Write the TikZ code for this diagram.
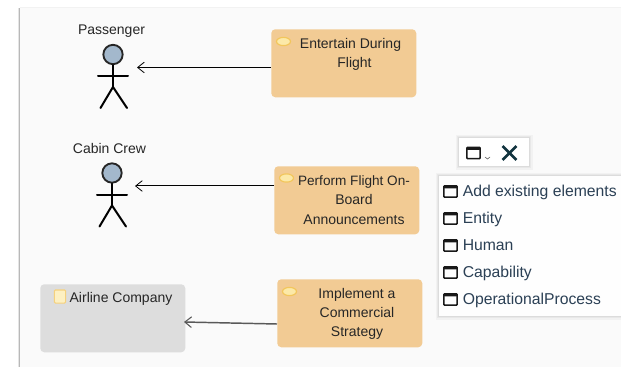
\documentclass[tikz,border=0pt]{standalone}
\usepackage{fontspec}
\setmainfont{Liberation Sans}
\usetikzlibrary{arrows.meta,shapes.geometric}
\definecolor{panelbg}{HTML}{FAFAFA}
\definecolor{procfill}{HTML}{F2CB94}
\definecolor{greyfill}{HTML}{DDDDDD}
\definecolor{headblue}{HTML}{A3B8CC}
\definecolor{menutext}{HTML}{2B4055}
\definecolor{darkx}{HTML}{12343F}
\definecolor{ovalfill}{HTML}{FCE9A8}
\definecolor{ovaledge}{HTML}{F2C65C}
\tikzset{
  x=0.75pt,y=-0.75pt,
  lab/.style={font=\fontsize{10.5pt}{14.5pt}\selectfont,text=black!85,inner sep=0pt,align=center},
  menulab/.style={font=\fontsize{11.8pt}{14pt}\selectfont,text=menutext,inner sep=0pt,anchor=base west},
  procbox/.style={fill=procfill,rounded corners=3pt,inner sep=0pt,anchor=north west},
  greybox/.style={fill=greyfill,rounded corners=3pt,inner sep=0pt,anchor=north west},
  oval/.style={ellipse,fill=ovalfill,draw=ovaledge,line width=0.9pt,minimum width=10.5pt,minimum height=6.2pt,inner sep=0pt},
  link/.style={draw=black,line width=0.75pt,-{Straight Barb[length=5pt,width=8pt,line width=0.6pt]}},
  linkgrey/.style={draw=black!65,line width=1.1pt,-{Straight Barb[length=5pt,width=8pt,line width=0.8pt]}},
  limb/.style={draw=black,line width=1.5pt,line cap=round},
  winicon/.style={draw=black!90,line width=1.2pt,rounded corners=0.6pt,minimum width=10pt,minimum height=8.4pt,inner sep=0pt,path picture={\fill[black!90] (path picture bounding box.north west) rectangle ([yshift=-1.9pt]path picture bounding box.north east);}},
  softbox/.style={inner sep=0pt,anchor=north west,
    preaction={draw=black,draw opacity=0.03,line width=5pt},
    preaction={draw=black,draw opacity=0.04,line width=3pt},
    preaction={draw=black,draw opacity=0.05,line width=1.5pt}},
}
\begin{document}
\begin{tikzpicture}
\useasboundingbox (0,0) rectangle (621,367);
\fill[white] (0,0) rectangle (621,367);
% panel with soft left/top shadow
\fill[black!10] (17.5,8) rectangle (20,367);
\fill[black!28] (18.8,8) rectangle (20,367);
\fill[black!5] (20,7) rectangle (621,9);
\fill[panelbg] (20,8.5) rectangle (621,367);

% actors
\node[lab] (passlab) at (111.5,31.5) {Passenger};
\node[circle,draw=black!85,fill=headblue,line width=1.4pt,minimum size=14.5pt,inner sep=0pt] (head1) at (113,54.5) {};
\coordinate (hip1) at (113,87);
\coordinate (armL1) at (98,76.5);
\coordinate (armR1) at (128,76.5);
\coordinate (footL1) at (100.5,108);
\coordinate (footR1) at (127,108);
\draw[limb] (head1) -- (hip1);
\draw[limb] (armL1) -- (armR1);
\draw[limb] (footL1) -- (hip1) -- (footR1);

\node[lab] (crewlab) at (109.5,148.5) {Cabin Crew};
\node[circle,draw=black!85,fill=headblue,line width=1.4pt,minimum size=14.5pt,inner sep=0pt] (head2) at (112,173) {};
\coordinate (hip2) at (112,205.5);
\coordinate (armL2) at (97,195);
\coordinate (armR2) at (127,195);
\coordinate (footL2) at (99.5,226.5);
\coordinate (footR2) at (126,226.5);
\draw[limb] (head2) -- (hip2);
\draw[limb] (armL2) -- (armR2);
\draw[limb] (footL2) -- (hip2) -- (footR2);

% process boxes
\node[procbox,minimum width=108.75pt,minimum height=51pt] (p1) at (271,29) {};
\node[oval] (o1) at (283.5,41.5) {};
\node[lab] (t1) at (350.5,54.5) {Entertain During\\\hspace*{6pt}Flight};

\node[procbox,minimum width=108.75pt,minimum height=51pt] (p2) at (274,166) {};
\node[oval] (o2) at (286.5,178) {};
\node[lab] (t2) at (354,200) {\fontsize{10.2pt}{14.5pt}\selectfont Perform Flight On-\\Board\\Announcements};

\node[procbox,minimum width=108.75pt,minimum height=51pt] (p3) at (277,279) {};
\node[oval] (o3) at (289.5,291.5) {};
\node[lab] (t3) at (357,314) {Implement a\\Commercial\\Strategy};

% grey box
\node[greybox,minimum width=108.75pt,minimum height=51pt] (g) at (40,284) {};
\node[draw=ovaledge!80,fill=ovalfill!70,line width=0.8pt,rounded corners=0.8pt,minimum width=8.5pt,minimum height=9.8pt,inner sep=0pt] (gi) at (60,296.5) {};
\node[lab] (gt) at (121,299) {Airline Company};

% connectors
\coordinate (a1) at (137,67.5);
\coordinate (a2) at (135,186);
\coordinate (a3) at (184,322);
\draw[link] (p1.west |- a1) -- (a1);
\draw[link] (p2.west |- a2) -- (a2);
\draw[linkgrey] (277,324) -- (a3);

% toolbar
\node[softbox,fill=white,minimum width=52.5pt,minimum height=21pt] (bar) at (459,138) {};
\node[winicon] (bi) at (473.5,153) {};
\coordinate (ch) at (487.5,159);
\draw[black!70,line width=0.4pt] (485,157) -- (ch) -- (490,157);
\node[inner sep=0pt,minimum size=10pt] (xx) at (509.5,153) {};
\draw[darkx,line width=1.9pt] (xx.north west) -- (xx.south east);
\draw[darkx,line width=1.9pt] (xx.north east) -- (xx.south west);

% menu
\node[softbox,fill=white!70!panelbg,minimum width=140pt,minimum height=105pt] (menu) at (439,176) {};
\foreach \n/\y/\t in {m1/196.5/Add existing elements,m2/223.5/Entity,m3/250.5/Human,m4/277.5/Capability,m5/304.5/OperationalProcess}{
  \node[winicon] (\n i) at (450.5,\y-5) {};
  \node[menulab] (\n) at (462.5,\y) {\t};
}
\end{tikzpicture}
\end{document}
